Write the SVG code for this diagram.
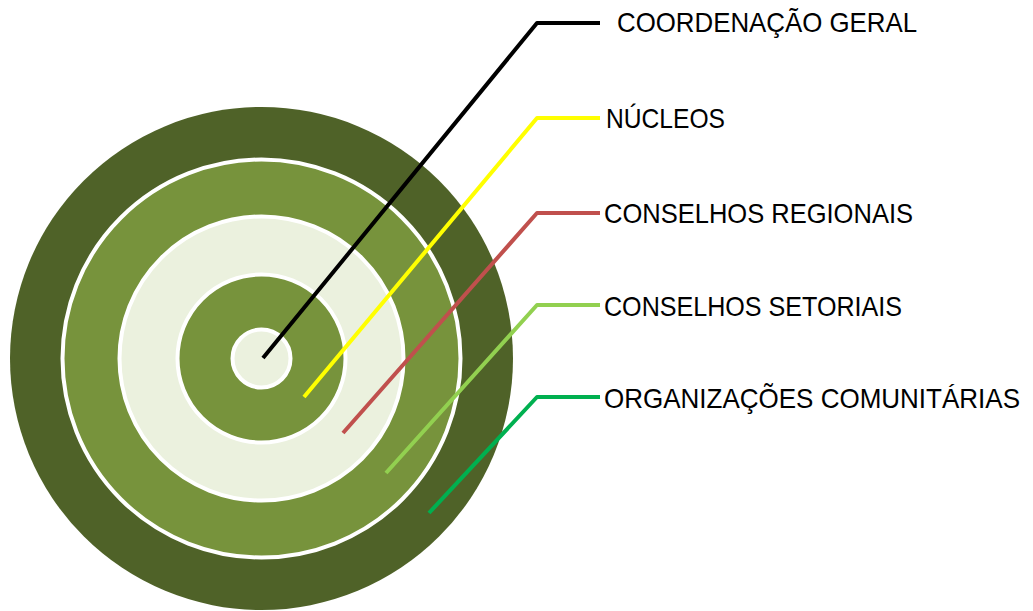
<svg xmlns="http://www.w3.org/2000/svg" width="1033" height="611" viewBox="0 0 1033 611">
<style>
.ring{stroke:#FFFFFF;stroke-width:4}
.lbl{font-family:"Liberation Sans",Arial,sans-serif;font-size:28px;fill:#000000}
.con{fill:none;stroke-width:4;stroke-linejoin:round}
</style>
<rect width="1033" height="611" fill="#FFFFFF"/>
<g id="target">
<circle cx="261.5" cy="358.5" r="251.5" fill="#4F6228"/>
<circle class="ring" cx="261.5" cy="358.5" r="199" fill="#77933C"/>
<circle class="ring" cx="261.5" cy="358.5" r="142" fill="#EBF1DE"/>
<circle class="ring" cx="261.5" cy="358.5" r="84" fill="#77933C"/>
<circle class="ring" cx="261.5" cy="358.5" r="29" fill="#EBF1DE"/>
</g>
<g id="connectors">
<polyline class="con" stroke="#000000" stroke-width="5" points="263,358 537,23 600,23"/>
<polyline class="con" stroke="#FFFF00" points="304,397 537,118 600,118"/>
<polyline class="con" stroke="#C0504D" points="343,433 537,213 600,213"/>
<polyline class="con" stroke="#92D050" points="386,473 537,305 600,305"/>
<polyline class="con" stroke="#00B050" points="429,513 537,397 600,397"/>
</g>
<g id="label-coordenacao"><text class="lbl" x="617" y="32" textLength="300" lengthAdjust="spacingAndGlyphs">COORDENAÇÃO GERAL</text></g>
<g id="label-nucleos"><text class="lbl" x="606" y="128" textLength="119" lengthAdjust="spacingAndGlyphs">NÚCLEOS</text></g>
<g id="label-regionais"><text class="lbl" x="604" y="223" textLength="309" lengthAdjust="spacingAndGlyphs">CONSELHOS REGIONAIS</text></g>
<g id="label-setoriais"><text class="lbl" x="604" y="316" textLength="298" lengthAdjust="spacingAndGlyphs">CONSELHOS SETORIAIS</text></g>
<g id="label-organizacoes"><text class="lbl" x="604" y="408" textLength="416" lengthAdjust="spacingAndGlyphs">ORGANIZAÇÕES COMUNITÁRIAS</text></g>
</svg>
